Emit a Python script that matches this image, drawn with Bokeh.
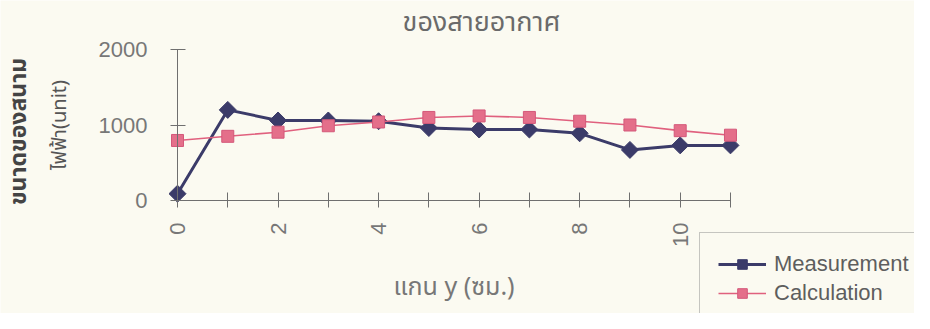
import math
from bokeh.plotting import figure
from bokeh.models import Range1d, FixedTicker, Legend, LegendItem, Label
from bokeh.embed import file_html
from bokeh.resources import INLINE

# ---- data ----
x_pos = list(range(12))
measurement = [90, 1200, 1060, 1060, 1050, 960, 940, 940, 890, 670, 730, 730]
calculation = [795, 850, 905, 990, 1040, 1100, 1120, 1100, 1050, 1000, 925, 865]
y_ticks = [0, 1000, 2000]
series_names = ["Measurement", "Calculation"]
title_text = "ของสายอากาศ"
x_label = "แกน y (ซม.)"
y_label_outer = "ขนาดของสนาม"
y_label_inner = "ไฟฟ้า(unit)"

BG = "#fbfaf1"
NAVY = "#3b3b69"
PINK = "#e0607e"
GRAY = "#6f6f6f"
THAI = "'Noto Sans Thai', 'Noto Sans', 'DejaVu Sans', sans-serif"
LAT = "Liberation Sans"

W, H = 914, 313
AXIS_X, AXIS_Y = 177, 200     # pixel position of the data origin
PX_X = 50.27                  # pixels per x unit
PX_Y = 0.0755                 # pixels per y unit


def dx(px):
    return (px - AXIS_X) / PX_X


def dy(py):
    return (AXIS_Y - py) / PX_Y


p = figure(width=W, height=H, x_range=Range1d(dx(0), dx(W)), y_range=Range1d(dy(H), dy(0)),
           output_backend="svg", toolbar_location=None,
           min_border_left=0, min_border_right=0, min_border_top=0, min_border_bottom=0,
           background_fill_color=BG, border_fill_color=BG, outline_line_color=None)
p.grid.visible = False

for ax in (p.xaxis[0], p.yaxis[0]):
    ax.fixed_location = 0
    ax.axis_line_color = GRAY
    ax.major_tick_line_color = GRAY
    ax.minor_tick_line_color = None
    ax.major_tick_in = 8
    ax.major_tick_out = 7
    ax.major_label_text_color = "#777777"
    ax.major_label_text_font = LAT
    ax.major_label_text_font_size = "22px"

p.xaxis.bounds = (0, 11)
p.xaxis.ticker = FixedTicker(ticks=x_pos)
p.xaxis.major_label_overrides = {i: (str(i) if i % 2 == 0 else "") for i in x_pos}
p.xaxis.major_label_orientation = math.pi / 2
p.xaxis.major_label_standoff = 15
p.xaxis.axis_label = x_label
p.xaxis.axis_label_text_font = THAI
p.xaxis.axis_label_text_font_size = "25px"
p.xaxis.axis_label_text_font_style = "normal"
p.xaxis.axis_label_text_color = "#777777"
p.xaxis.axis_label_standoff = 18

p.yaxis.bounds = (0, 2000)
p.yaxis.ticker = FixedTicker(ticks=y_ticks)
p.yaxis.major_label_standoff = 23
p.yaxis.axis_label = y_label_inner
p.yaxis.axis_label_text_font = THAI
p.yaxis.axis_label_text_font_size = "20px"
p.yaxis.axis_label_text_font_style = "normal"
p.yaxis.axis_label_text_color = "#555555"
p.yaxis.axis_label_standoff = 21

# chart title and outer line of the y title
p.add_layout(Label(x=dx(481), y=dy(22), text=title_text, text_align="center",
                   text_baseline="middle", text_font=THAI, text_font_size="27px",
                   text_color="#6a6a6a"))
p.add_layout(Label(x=dx(18), y=dy(131), text=y_label_outer, angle=math.pi / 2,
                   text_align="center", text_baseline="middle", text_font=THAI,
                   text_font_size="23px", text_font_style="bold", text_color="#444444"))

l1 = p.line(x_pos, measurement, line_color=NAVY, line_width=3)
s1 = p.scatter(x_pos, measurement, marker="square", angle=math.pi / 4, size=12,
               fill_color=NAVY, line_color=NAVY)
l2 = p.line(x_pos, calculation, line_color=PINK, line_width=1.6)
s2 = p.scatter(x_pos, calculation, marker="square", size=12, fill_color="#e46f8a", line_color="#d4587a")

legend = Legend(items=[LegendItem(label=series_names[0], renderers=[l1, s1]),
                       LegendItem(label=series_names[1], renderers=[l2, s2])],
                location=(699, -12), orientation="vertical",
                label_text_font=LAT, label_text_font_size="22px", label_text_color="#5e5e5e",
                glyph_width=48, glyph_height=24, label_height=24, label_standoff=8,
                spacing=3, padding=18, margin=0,
                border_line_color="#8f8f8f", border_line_width=1,
                background_fill_color=BG, background_fill_alpha=1.0)
p.add_layout(legend, "center")

open("out.html", "w").write(file_html(p, INLINE))
